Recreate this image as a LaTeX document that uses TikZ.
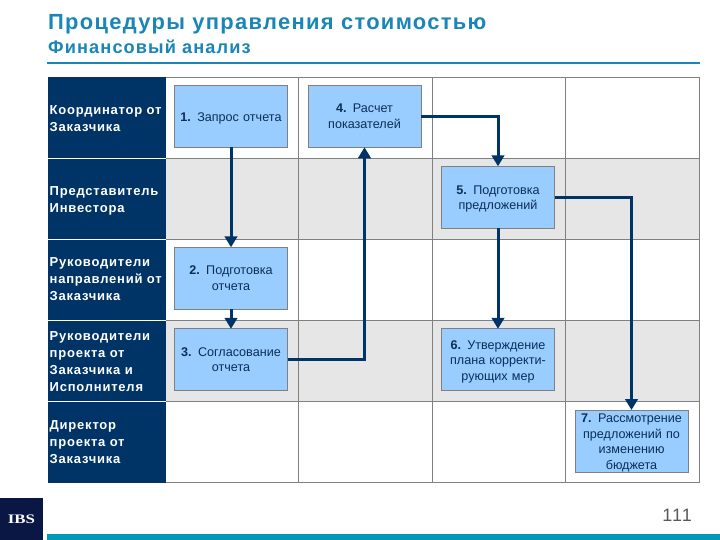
\documentclass[tikz,border=0pt]{standalone}
\usepackage{fontspec}
\setmainfont{Liberation Sans}
\newfontfamily\spacedfont[LetterSpace=6]{Liberation Sans}
\newfontfamily\logofont[FakeStretch=1.3]{Liberation Serif}
\usetikzlibrary{arrows.meta, positioning}
\definecolor{navy}{HTML}{003366}
\definecolor{logonavy}{HTML}{0A1745}
\definecolor{stepblue}{HTML}{99CCFF}
\definecolor{bandgray}{HTML}{E6E6E6}
\definecolor{titleblue}{HTML}{1A86B8}
\definecolor{barteal}{HTML}{0099B8}
\definecolor{steptext}{HTML}{0B2F57}
\tikzset{
  role/.style={anchor=west,text=white,text width=116pt,inner sep=0pt,align=left,
    font=\spacedfont\bfseries\fontsize{13}{17}\selectfont},
  stepbox/.style={fill=stepblue,draw=gray,line width=.7pt,text=steptext,minimum width=113pt,minimum height=62pt,
    text width=111pt,inner xsep=1pt,inner ysep=0pt,outer sep=0pt,align=center,font=\fontsize{12.6}{15.5}\selectfont},
  steplow/.style={execute at begin node={\rule{0pt}{12.5pt}}},
  flow/.style={draw=navy,line width=3pt,-{Triangle[length=11pt,width=12.5pt]}},
}
\begin{document}
\begin{tikzpicture}[x=1pt,y=-1pt]
\useasboundingbox (0,0) rectangle (720,540);
\fill[white] (0,0) rectangle (720,540);
% title
\node[anchor=base west,inner sep=0pt,text=titleblue,font=\spacedfont\bfseries\fontsize{21.9}{26}\selectfont] (title) at (48,29.5) {Процедуры управления стоимостью};
\node[anchor=base west,inner sep=0pt,text=titleblue,font=\spacedfont\bfseries\fontsize{18.2}{22}\selectfont] (subtitle) at (48,53.5) {Финансовый анализ};
\fill[titleblue] (47,62.2) rectangle (700,64.2);
% bands
\fill[bandgray] (165.5,158) rectangle (699.5,239);
\fill[bandgray] (165.5,320.5) rectangle (699.5,401.5);
% grid
\draw[gray,line width=.7pt] (165.5,77.5) -- (699.5,77.5);
\draw[gray,line width=.7pt] (165.5,158) -- (699.5,158);
\draw[gray,line width=.7pt] (165.5,239) -- (699.5,239);
\draw[gray,line width=.7pt] (165.5,320.5) -- (699.5,320.5);
\draw[gray,line width=.7pt] (165.5,401.5) -- (699.5,401.5);
\draw[gray,line width=.7pt] (165.5,482.5) -- (699.5,482.5);
\draw[gray,line width=.7pt] (298.5,77.5) -- (298.5,482.5);
\draw[gray,line width=.7pt] (432.5,77.5) -- (432.5,482.5);
\draw[gray,line width=.7pt] (565.5,77.5) -- (565.5,482.5);
\draw[gray,line width=.7pt] (699.5,77.5) -- (699.5,482.5);
% roles
\fill[navy] (47.5,77.5) rectangle (165.5,482.5);
\draw[white,line width=.7pt] (47.5,158) -- (165.5,158);
\draw[white,line width=.7pt] (47.5,239) -- (165.5,239);
\draw[white,line width=.7pt] (47.5,320.5) -- (165.5,320.5);
\draw[white,line width=.7pt] (47.5,401.5) -- (165.5,401.5);
\node[role] (coord) at (49.5,118.5) {Координатор от\\Заказчика};
\node[role] (investor) at (49.5,201) {Представитель\\Инвестора};
\node[role] (heads) at (49.5,279.2) {Руководители\\направлений от\\Заказчика};
\node[role] (managers) at (49.5,362) {Руководители\\проекта от\\Заказчика и\\Исполнителя};
\node[role] (director) at (49.5,442.5) {Директор\\проекта от\\Заказчика};
% steps
\node[stepbox,steplow] (request) at (231,116.3) {\textbf{1.} Запрос отчета};
\node[stepbox] (prepare) at (231,278.3) {\textbf{2.} Подготовка\\отчета};
\node[stepbox] (agree) at (231,359.8) {\textbf{3.} Согласование\\отчета};
\node[stepbox] (calc) at (364.5,116.3) {\textbf{4.} Расчет\\показателей};
\node[stepbox,steplow] (offers) at (498,197.3) {\textbf{5.} Подготовка\\предложений};
\node[stepbox,steplow] (approve) at (498,359.8) {\textbf{6.} Утверждение\\плана корректи-\\рующих мер};
\node[stepbox,steplow] (review) at (631.5,441) {\textbf{7.} Рассмотрение\\предложений по\\изменению\\бюджета};
% flows
\draw[flow] (request) -- (prepare);
\draw[flow] (prepare) -- (agree);
\draw[flow] (agree.east) -| (calc.south);
\draw[flow] (calc.east) -| (offers.north);
\draw[flow] (offers) -- (approve);
\draw[flow] (offers.east) -| (review.north);
% footer
\node[fill=logonavy,text=white,minimum width=43pt,minimum height=42pt,inner sep=0pt,outer sep=0pt,
  font=\logofont\bfseries\fontsize{13}{14}\selectfont] (logo) at (21.5,519) {IBS};
\node[anchor=base east,inner sep=0pt,text=black!65,font=\spacedfont\fontsize{18}{20}\selectfont] (page) at (692,521) {111};
\fill[barteal] (47,534) rectangle (720,540);
\end{tikzpicture}
\end{document}
